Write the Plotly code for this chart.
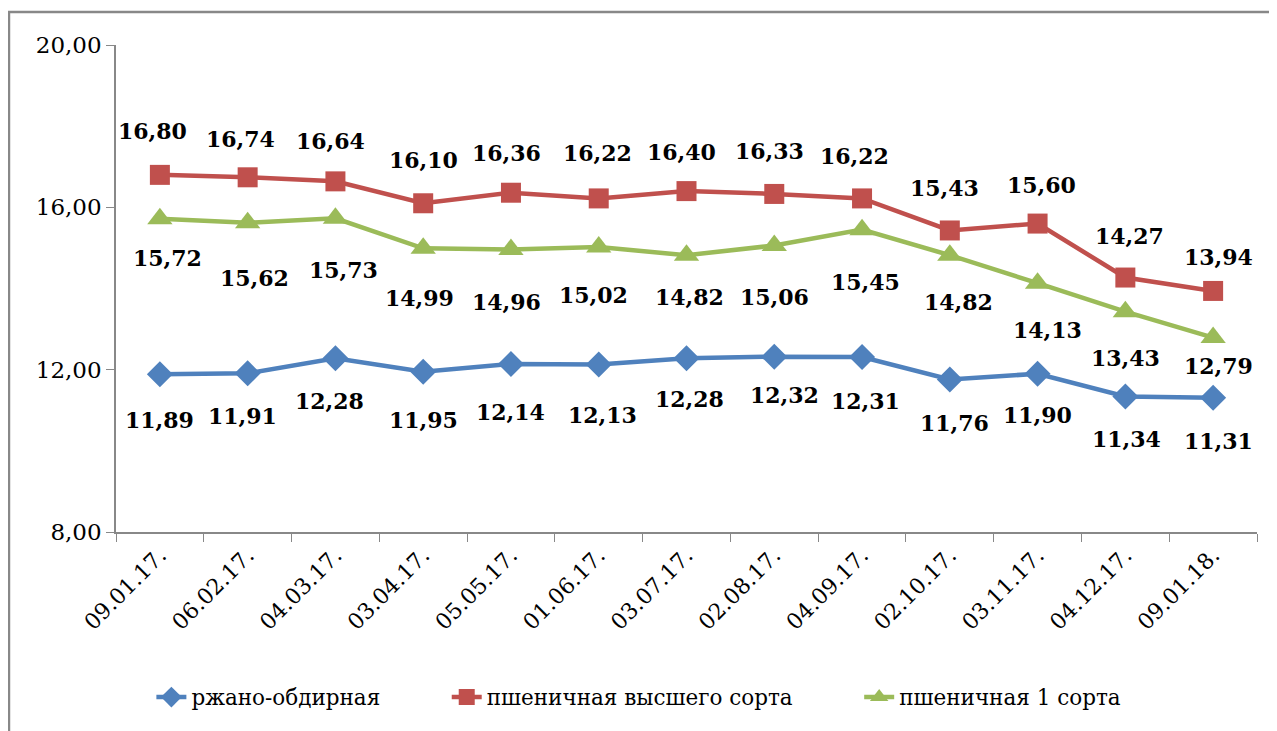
import plotly.graph_objects as go

dates = ["09.01.17.", "06.02.17.", "04.03.17.", "03.04.17.", "05.05.17.", "01.06.17.",
         "03.07.17.", "02.08.17.", "04.09.17.", "02.10.17.", "03.11.17.", "04.12.17.", "09.01.18."]
rye = [11.89, 11.91, 12.28, 11.95, 12.14, 12.13, 12.28, 12.32, 12.31, 11.76, 11.90, 11.34, 11.31]
wheat_top = [16.80, 16.74, 16.64, 16.10, 16.36, 16.22, 16.40, 16.33, 16.22, 15.43, 15.60, 14.27, 13.94]
wheat_1 = [15.72, 15.62, 15.73, 14.99, 14.96, 15.02, 14.82, 15.06, 15.45, 14.82, 14.13, 13.43, 12.79]

names = ["ржано-обдирная", "пшеничная высшего сорта", "пшеничная 1 сорта"]
colors = ["#4F81BD", "#C0504D", "#9BBB59"]
symbols = ["diamond", "square", "triangle-up"]
msizes = [20, 20, 22]

# label pixel offsets (dx, dy) relative to each marker (style only)
lab_dy = [
    [-46, -43, -43, -48, -48, -51, -41, -38, -44, -44, -41, -43, -43],
    [44, 38, 40, 43, 40, 45, 39, 43, 42, 42, 39, 42, 34],
    [-39, -55, -52, -50, -52, -48, -42, -52, -52, -47, -47, -46, -28],
]
lab_dx = [
    [0, -5, -6, 0, 0, 4, 3, 10, 3, 5, 0, 1, 5],
    [-7, -7, -5, 0, -4, -1, -5, -5, -8, -5, 4, 4, 5],
    [8, 7, 8, -4, -4, -5, 3, 0, 3, 9, 10, 0, 5],
]

SERIF = "DejaVu Serif"

def fmt(v):
    return f"{v:.2f}".replace(".", ",")

fig = go.Figure()
series = [rye, wheat_top, wheat_1]
for i, (vals, name, c, s, ms) in enumerate(zip(series, names, colors, symbols, msizes)):
    fig.add_trace(go.Scatter(
        x=dates, y=vals, name=name + "\u00a0" * 9, mode="lines+markers",
        line=dict(color=c, width=4.5),
        marker=dict(symbol=s, size=ms, color=c, line=dict(width=0)),
    ))
    for j, (d, v) in enumerate(zip(dates, vals)):
        fig.add_annotation(x=d, y=v, text="<b>" + fmt(v) + "</b>", showarrow=False,
                           xshift=lab_dx[i][j], yshift=lab_dy[i][j],
                           xanchor="center", yanchor="middle",
                           font=dict(family=SERIF, size=22, color="black"))

fig.add_shape(type="rect", xref="paper", yref="paper",
              x0=-0.0938, x1=1.05, y0=-0.6, y1=1.0678,
              line=dict(color="#888888", width=2.5), fillcolor="rgba(0,0,0,0)")

fig.update_layout(
    width=1269, height=723,
    margin=dict(l=108, r=20, t=37, b=199),
    paper_bgcolor="white", plot_bgcolor="white",
    font=dict(family=SERIF, size=22, color="black"),
    separators=",.",
    showlegend=True,
    legend=dict(orientation="h", x=0.485, xanchor="center", y=-0.339, yanchor="middle",
                font=dict(family=SERIF, size=21.5), traceorder="normal"),
    xaxis=dict(type="category", range=[-0.5, 12.5], showline=True, linecolor="#888888",
               linewidth=1.5, ticks="outside", tickson="boundaries", ticklen=8,
               tickcolor="#888888", tickangle=-45, showgrid=False,
               tickfont=dict(family=SERIF, size=22)),
    yaxis=dict(range=[8, 20], tickvals=[8, 12, 16, 20], tickformat=".2f",
               showline=True, linecolor="#888888", linewidth=1.5, ticks="outside",
               ticklen=8, tickcolor="#888888", showgrid=False, zeroline=False,
               tickfont=dict(family=SERIF, size=23)),
)

fig.write_html("out.html")
